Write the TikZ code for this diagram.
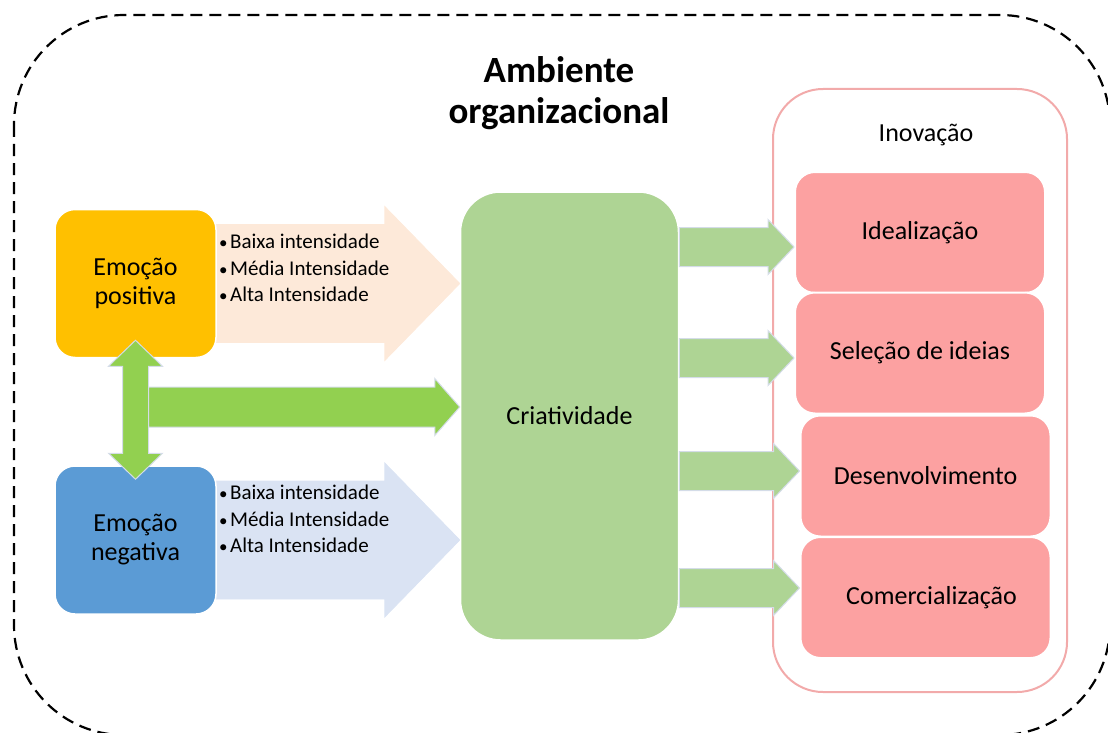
\documentclass[tikz,border=0pt]{standalone}
\usepackage{fontspec}
\setmainfont{Carlito}
\usetikzlibrary{calc,backgrounds}
\definecolor{posfill}{RGB}{255,192,0}
\definecolor{negfill}{RGB}{91,155,213}
\definecolor{crifill}{RGB}{174,212,148}
\definecolor{peach}{RGB}{253,233,217}
\definecolor{paleblue}{RGB}{218,227,243}
\definecolor{brightgreen}{RGB}{146,208,80}
\definecolor{pinkfill}{RGB}{252,161,161}
\definecolor{pinkline}{RGB}{242,170,170}
\definecolor{arrowedge}{RGB}{212,220,232}
% block arrow pointing right: style, tail, tip, half shaft, half head, head length
\newcommand\blockarrow[6]{%
  \filldraw[#1] let \p1=#2, \p2=#3 in
    (\x1,{\y1+#4}) -- ({\x2-#6},{\y1+#4}) -- ({\x2-#6},{\y1+#5})
    -- (\x2,\y1) -- ({\x2-#6},{\y1-#5}) -- ({\x2-#6},{\y1-#4})
    -- (\x1,{\y1-#4}) -- cycle;}
\newcommand\bul{{\fontsize{17}{20}\selectfont•}\hspace{2.5pt}}
\tikzset{
  envline/.style={draw=black, line width=2.2pt, dash pattern=on 12pt off 7pt, rounded corners=110pt},
  emobox/.style={draw=white, line width=1.5pt, rounded corners=20pt, minimum width=161pt,
    minimum height=148pt, inner sep=0pt, align=center, font=\fontsize{26}{29}\selectfont},
  crbox/.style={draw=white, line width=1.5pt, fill=crifill, rounded corners=40pt, minimum width=218pt,
    minimum height=448pt, inner sep=0pt, font=\fontsize{26}{30}\selectfont},
  innobox/.style={draw=pinkline, line width=2pt, fill=white, rounded corners=50pt, minimum width=294pt,
    minimum height=603pt, inner sep=0pt},
  stagebox/.style={draw=white, line width=2pt, fill=pinkfill, rounded corners=20pt, minimum width=250pt,
    minimum height=121pt, inner sep=0pt, font=\fontsize{26}{30}\selectfont},
  bullettext/.style={anchor=west, inner sep=0pt, align=left, font=\fontsize{21}{26.5}\selectfont},
  titletext/.style={align=center, inner sep=0pt, font=\bfseries\fontsize{37}{41}\selectfont},
  peacharrow/.style={fill=peach, draw=peach, line width=0.8pt},
  bluearrow/.style={fill=paleblue, draw=paleblue, line width=0.8pt},
  softarrow/.style={fill=crifill, draw=arrowedge, line width=1pt},
  brightarrow/.style={fill=brightgreen, draw=arrowedge, line width=1pt}
}
\begin{document}
\begin{tikzpicture}[x=1pt,y=-1pt]
\useasboundingbox (0,0) rectangle (1108,733);
% ambiente
\draw[envline] (14,15) rectangle (1110,735);
\node[titletext] (amb) at (559,93) {Ambiente\\organizacional};
% emotions and creativity
\node[emobox, fill=posfill] (pos) at (135.5,283.5) {Emoção\\positiva};
\node[emobox, fill=negfill] (neg) at (135.5,540) {Emoção\\negativa};
\node[crbox] (cri) at (569.5,416) {Criatividade};
% innovation
\node[innobox] (ino) at (920,390.5) {};
\node[anchor=base, inner sep=0pt, font=\fontsize{26}{30}\selectfont] (inol) at (926,142) {Inovação};
\node[stagebox] (ide) at (920,232.5) {Idealização};
\node[stagebox] (sel) at (920,353) {Seleção de ideias};
\node[stagebox] (des) at (925.5,476) {Desenvolvimento};
\node[stagebox] (com) at (925.5,597.5) {\hspace{12pt}Comercialização};
% arrows behind the emotion boxes
\begin{pgfonlayer}{background}
\blockarrow{peacharrow}{(pos.center)}{(cri.west |- pos.center)}{59pt}{77pt}{75pt}
\blockarrow{bluearrow}{(neg.center)}{(cri.west |- neg.center)}{59pt}{77pt}{75pt}
\end{pgfonlayer}
\node[bullettext] (posl) at (219,268) {\bul Baixa intensidade\\\bul Média Intensidade\\\bul Alta Intensidade};
\node[bullettext] (negl) at (219,519) {\bul Baixa intensidade\\\bul Média Intensidade\\\bul Alta Intensidade};
% link between the emotions
\filldraw[brightarrow] let \p1=([yshift=18pt]pos.south), \p2=([yshift=-14pt]neg.north) in
  (\x1,\y1) -- ({\x1+27pt},{\y1-26pt}) -- ({\x1+13pt},{\y1-26pt}) -- ({\x1+13pt},{\y2+26pt})
  -- ({\x1+27pt},{\y2+26pt}) -- (\x1,\y2) -- ({\x1-27pt},{\y2+26pt}) -- ({\x1-13pt},{\y2+26pt})
  -- ({\x1-13pt},{\y1-26pt}) -- ({\x1-27pt},{\y1-26pt}) -- cycle;
\coordinate (mid) at ([yshift=9pt]cri.west);
\blockarrow{brightarrow}{([xshift=13pt]pos.south |- mid)}{(mid)}{20pt}{28.5pt}{25pt}
% creativity to the stages
\coordinate (t1) at ([yshift=-14.5pt]ide.west);
\coordinate (t2) at ([yshift=-5pt]sel.west);
\coordinate (t3) at ([yshift=5pt]des.west);
\coordinate (t4) at ([yshift=9.5pt]com.west);
\blockarrow{softarrow}{(cri.east |- t1)}{(t1)}{19.5pt}{27.5pt}{26pt}
\blockarrow{softarrow}{(cri.east |- t2)}{(t2)}{19.5pt}{27.5pt}{26pt}
\blockarrow{softarrow}{(cri.east |- t3)}{(t3)}{19.5pt}{27.5pt}{26pt}
\blockarrow{softarrow}{(cri.east |- t4)}{(t4)}{19.5pt}{27.5pt}{26pt}
\end{tikzpicture}
\end{document}
